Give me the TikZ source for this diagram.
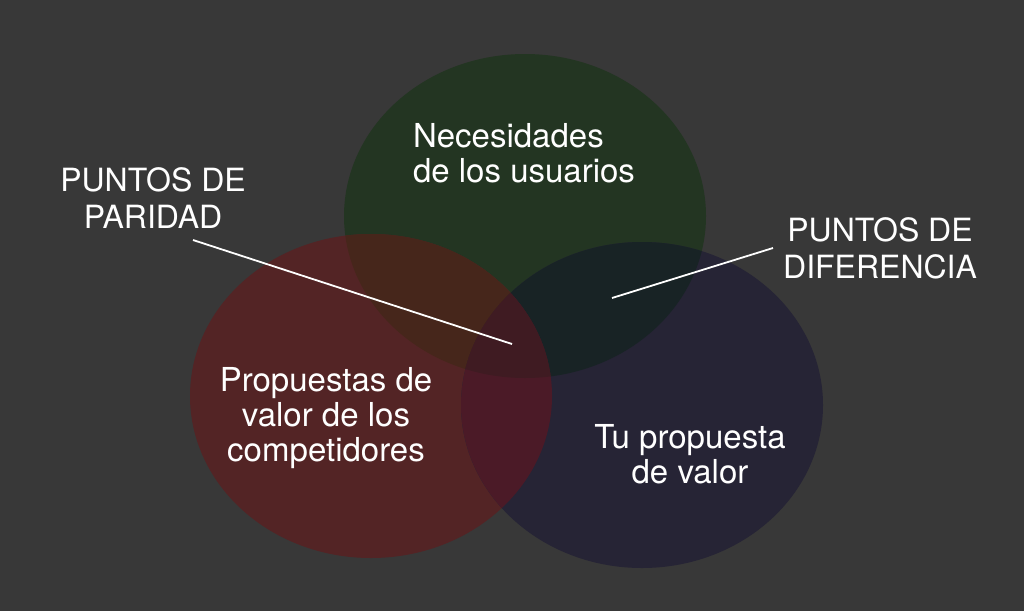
\documentclass[tikz,border=0pt]{standalone}
\usepackage{fontspec}
\setmainfont{TeX Gyre Heros}
\definecolor{bgGray}{HTML}{383838}
\definecolor{needGreen}{HTML}{233522}
\definecolor{compRed}{HTML}{532425}
\definecolor{ownBlue}{HTML}{262435}
\definecolor{redGreen}{HTML}{46261B}
\definecolor{greenBlue}{HTML}{182325}
\definecolor{redBlue}{HTML}{4B1A27}
\definecolor{allThree}{HTML}{3F1B22}

% the three sets
\newcommand\needSet{(525,216) ellipse [x radius=181, y radius=162]}
\newcommand\compSet{(371,396) ellipse [x radius=181, y radius=162]}
\newcommand\ownSet{(642,405) ellipse [x radius=181, y radius=163]}

\begin{document}
\begin{tikzpicture}[x=1pt,y=-1pt,
    every node/.style={text=white,inner sep=0pt},
    setlabel/.style={font=\fontsize{33}{35}\selectfont},
    callout/.style={font=\fontsize{32}{37}\selectfont,align=center},
    pointer/.style={draw=white,line width=1.8pt}]
  \fill[bgGray] (0,0) rectangle (1024,611);
  \useasboundingbox (0,0) rectangle (1024,611);

  % plain areas
  \fill[needGreen] \needSet;
  \fill[compRed] \compSet;
  \fill[ownBlue] \ownSet;
  % overlaps
  \begin{scope}
    \clip \compSet;
    \fill[redGreen] \needSet;
  \end{scope}
  \begin{scope}
    \clip \needSet;
    \fill[greenBlue] \ownSet;
  \end{scope}
  \begin{scope}
    \clip \compSet;
    \fill[redBlue] \ownSet;
  \end{scope}
  \begin{scope}
    \clip \compSet;
    \clip \needSet;
    \fill[allThree] \ownSet;
  \end{scope}

  \node[setlabel,align=left] (needs) at (524,153) {Necesidades\\de los usuarios};
  \node[setlabel,align=center] (comp) at (326,418) {Propuestas de\\valor de los\\competidores};
  \node[setlabel,align=center] (own) at (690,454) {Tu propuesta\\de valor};

  \node[callout] (parity) at (153,198) {PUNTOS DE\\PARIDAD};
  \node[callout] (diff) at (880,248) {PUNTOS DE\\DIFERENCIA};

  \coordinate (parityTail) at (193,240);
  \coordinate (parityTip) at (512,344);
  \coordinate (diffTail) at (773,248);
  \coordinate (diffTip) at (612,298);
  \draw[pointer] (parityTail) -- (parityTip);
  \draw[pointer] (diffTail) -- (diffTip);
\end{tikzpicture}
\end{document}
